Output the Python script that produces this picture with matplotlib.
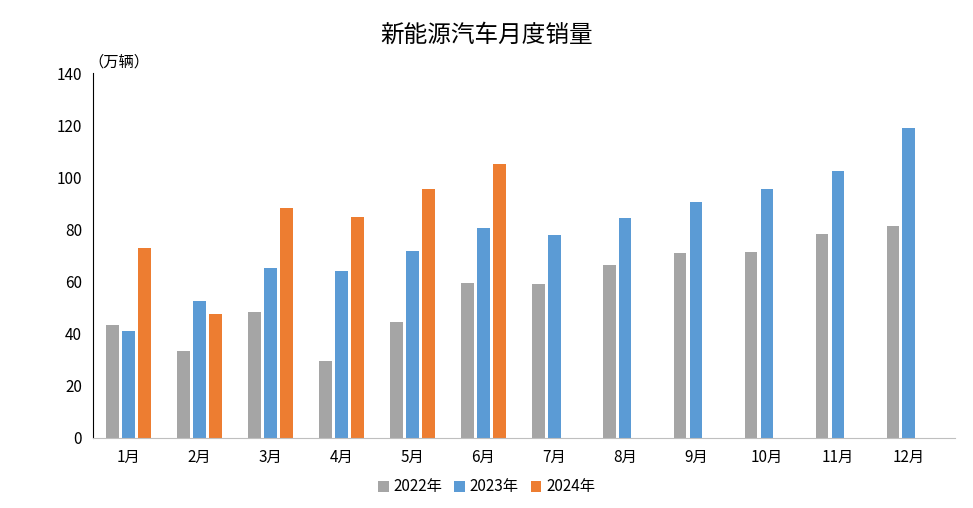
import matplotlib.pyplot as plt
from matplotlib import font_manager
import numpy as np

cjk = [f.name for f in font_manager.fontManager.ttflist if "CJK" in f.name]
plt.rcParams["font.family"] = (cjk[:1] or ["Noto Sans CJK JP"]) + ["DejaVu Sans"]

months = ["1月", "2月", "3月", "4月", "5月", "6月", "7月", "8月", "9月", "10月", "11月", "12月"]
sales_2022 = [43.3, 33.4, 48.3, 29.5, 44.5, 59.5, 59.0, 66.4, 71.0, 71.3, 78.2, 81.3]
sales_2023 = [41.0, 52.5, 65.2, 64.0, 71.7, 80.5, 77.9, 84.4, 90.5, 95.5, 102.4, 118.9]
sales_2024 = [72.9, 47.6, 88.2, 84.8, 95.5, 105.1]

fig = plt.figure(figsize=(9.73, 5.08), dpi=100)
ax = fig.add_axes([93 / 973, 1 - 438 / 508, (955 - 93) / 973, (438 - 73) / 508])

x = np.arange(len(months))
w = 0.18
off = 0.225
ax.bar(x - off, sales_2022, w, color="#A5A5A5", label="2022年")
ax.bar(x, sales_2023, w, color="#5B9BD5", label="2023年")
ax.bar(np.arange(len(sales_2024)) + off, sales_2024, w, color="#ED7D31", label="2024年")

ax.set_ylim(0, 140)
ax.set_yticks(range(0, 141, 20))
ax.set_xlim(-0.5, 11.65)
ax.set_xticks(x)
ax.set_xticklabels(months, fontsize=11)
ax.tick_params(length=0, labelsize=11, pad=8)
ax.spines["top"].set_visible(False)
ax.spines["right"].set_visible(False)
ax.spines["left"].set_color("black")
ax.spines["bottom"].set_color("#BFBFBF")

fig.text(0.5, 1 - 35 / 508, "新能源汽车月度销量", ha="center", va="center", fontsize=17)
fig.text(88 / 973, 1 - 62 / 508, "（万辆）", ha="left", va="center", fontsize=11)
fig.legend(loc="center", bbox_to_anchor=(0.5, 1 - 487 / 508), ncol=3, frameon=False,
           fontsize=11, handlelength=0.7, handleheight=0.7, columnspacing=0.8, handletextpad=0.3)

fig.savefig("out.png", dpi=100)
